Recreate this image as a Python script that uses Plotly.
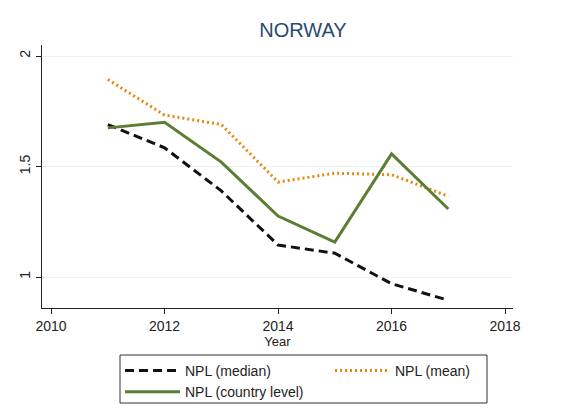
import plotly.graph_objects as go

years = [2011, 2012, 2013, 2014, 2015, 2016, 2017]
npl_median = [1.69, 1.585, 1.39, 1.145, 1.108, 0.97, 0.895]
npl_mean = [1.894, 1.733, 1.69, 1.43, 1.47, 1.463, 1.366]
npl_country = [1.675, 1.70, 1.52, 1.276, 1.158, 1.557, 1.308]

x_ticks = [2010, 2012, 2014, 2016, 2018]
y_ticks = [1, 1.5, 2]
y_tick_labels = ["1", "1.5", "2"]

W, H = 563, 401  # page body margin of 8px shifts the figure
L, R, T, B = 34, 58, 37, 101
PW, PH = W - L - R, H - T - B

fig = go.Figure()
fig.add_trace(go.Scatter(x=years, y=npl_median, mode="lines", name="NPL (median)",
                         line=dict(color="#111111", width=3, dash="9px,5px")))
fig.add_trace(go.Scatter(x=years, y=npl_mean, mode="lines", name="NPL (mean)",
                         line=dict(color="#e8850c", width=3, dash="2px,3px")))
fig.add_trace(go.Scatter(x=years, y=npl_country, mode="lines", name="NPL (country level)",
                         line=dict(color="#5a7f32", width=3)))

# legend frame (legend's own box stretches to the page edge when wrapped)
fig.add_shape(type="rect", xref="paper", yref="paper",
              x0=(112 - L) / PW, x1=(479 - L) / PW,
              y0=(H - B - 395) / PH, y1=(H - B - 347) / PH,
              line=dict(color="#333333", width=1), fillcolor="rgba(0,0,0,0)",
              layer="above")

fig.update_layout(
    width=W, height=H,
    margin=dict(l=L, r=R, t=T, b=B),
    paper_bgcolor="white", plot_bgcolor="white",
    font=dict(family="Liberation Sans, Arial, sans-serif", size=14, color="#222222"),
    title=dict(text="NORWAY", x=295/W, xanchor="center", y=1 - 22/H, yanchor="middle",
               font=dict(size=20, color="#2a4a70")),
    xaxis=dict(range=[2009.84, 2018.14], tickvals=x_ticks, ticks="outside", ticklen=5,
               tickcolor="#222", showline=True, linecolor="#222", linewidth=1.3,
               showgrid=False, zeroline=False, automargin=False,
               title=dict(text="Year", font=dict(size=13), standoff=0),
               tickfont=dict(size=14)),
    yaxis=dict(range=[0.86, 2.05], tickvals=y_ticks, ticktext=y_tick_labels,
               ticks="outside", ticklen=5, tickcolor="#222", tickangle=-90,
               showline=True, linecolor="#222", linewidth=1.3, automargin=False,
               showgrid=True, gridcolor="#eaf2f3", gridwidth=1, zeroline=False,
               tickfont=dict(size=14)),
    legend=dict(orientation="h", xref="container", yref="container",
                x=112/W, xanchor="left", y=1 - 347/H, yanchor="top",
                borderwidth=0, bgcolor="rgba(0,0,0,0)",
                entrywidth=140, font=dict(size=14), tracegroupgap=0,
                itemwidth=55),
    showlegend=True,
)

fig.write_html("out.html")
